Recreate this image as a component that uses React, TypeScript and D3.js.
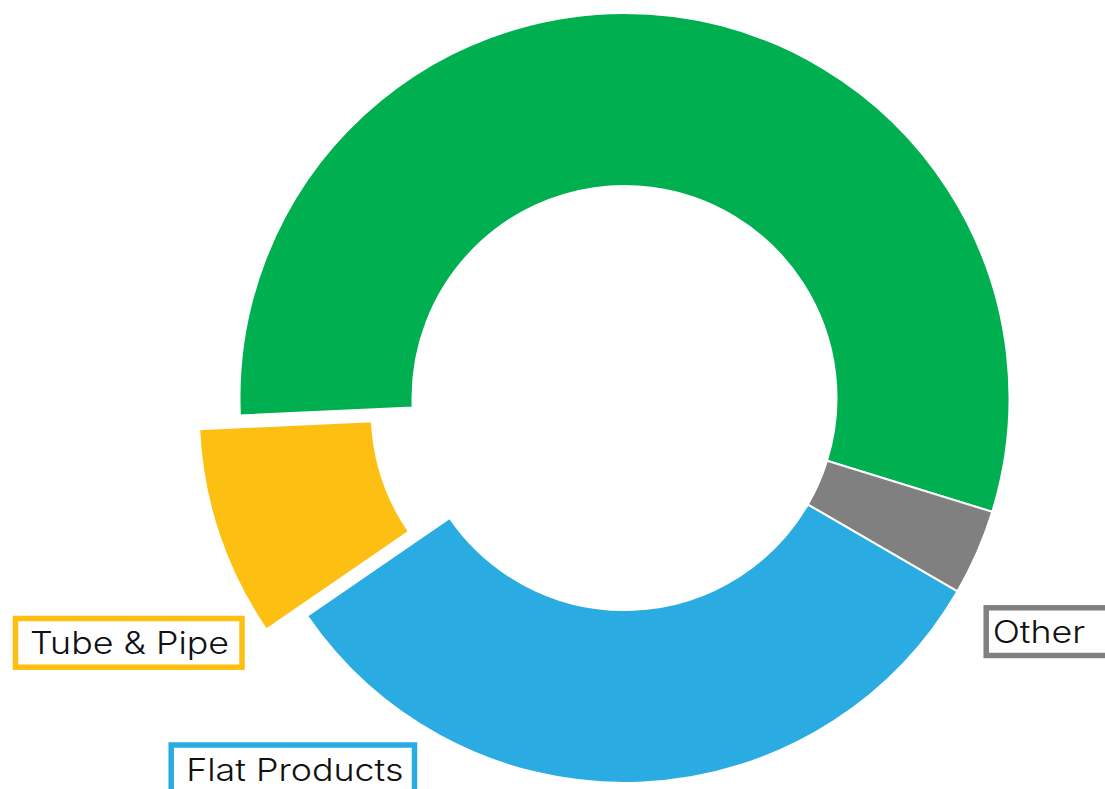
import React from "react";
import * as d3 from "d3";

// ---- data ----
const categories = ["Long Products", "Other", "Flat Products", "Tube & Pipe"];
const shares = [55.5, 3.6, 32.05, 8.85];
const colors = ["#00B050", "#808080", "#2AACE2", "#FDC012"];
const exploded = [false, false, false, true];
const showLabel = [false, true, true, true];

// ---- layout ----
const W = 1105;
const H = 789;
const CX = 624.5;
const CY = 398;
const R_OUT = 385;
const R_IN = 212;
const EXPLODE = 43;
const START_DEG = 267.4;
const TEXT_STRETCH = 1.155;
const labelBoxes: Record<string, { x: number; y: number; w: number; h: number; pad: number }> = {
  "Tube & Pipe": { x: 15.5, y: 618.5, w: 226.5, h: 48.7, pad: 14.5 },
  "Flat Products": { x: 171.2, y: 745, w: 243.3, h: 48.7, pad: 15 },
  Other: { x: 986.2, y: 607.8, w: 130, h: 47.7, pad: 6.5 },
};

export default function App() {
  const rows = categories.map((c, i) => ({
    name: c,
    value: shares[i],
    color: colors[i],
    exploded: exploded[i],
    label: showLabel[i],
  }));
  const start = (START_DEG * Math.PI) / 180;
  const pie = d3
    .pie<(typeof rows)[number]>()
    .sort(null)
    .value((d) => d.value)
    .startAngle(start)
    .endAngle(start + 2 * Math.PI);
  const arcs = pie(rows);
  const arc = d3
    .arc<d3.PieArcDatum<(typeof rows)[number]>>()
    .innerRadius(R_IN)
    .outerRadius(R_OUT);

  return (
    <svg
      width={W}
      height={H}
      style={{ position: "absolute", left: 0, top: 0, background: "#fff" }}
    >
      <g transform={`translate(${CX},${CY})`}>
        {arcs.map((a, i) => {
          const mid = (a.startAngle + a.endAngle) / 2;
          const dx = a.data.exploded ? EXPLODE * Math.sin(mid) : 0;
          const dy = a.data.exploded ? -EXPLODE * Math.cos(mid) : 0;
          return (
            <path
              key={i}
              d={arc(a) || ""}
              transform={`translate(${dx},${dy})`}
              fill={a.data.color}
              stroke="#fff"
              strokeWidth={2}
            />
          );
        })}
      </g>
      {rows
        .filter((r) => r.label && labelBoxes[r.name])
        .map((r) => {
          const b = labelBoxes[r.name];
          return (
            <g key={r.name}>
              <rect
                x={b.x}
                y={b.y}
                width={b.w}
                height={b.h}
                fill="#fff"
                stroke={r.color}
                strokeWidth={5.5}
              />
              <text
                transform={`translate(${b.x + b.pad},${b.y + b.h / 2}) scale(${TEXT_STRETCH},1)`}
                dy="0.36em"
                fontFamily="Inter, 'Open Sans', sans-serif"
                fontSize={31}
                fontWeight={300}
                fill="#111"
              >
                {r.name}
              </text>
            </g>
          );
        })}
    </svg>
  );
}
